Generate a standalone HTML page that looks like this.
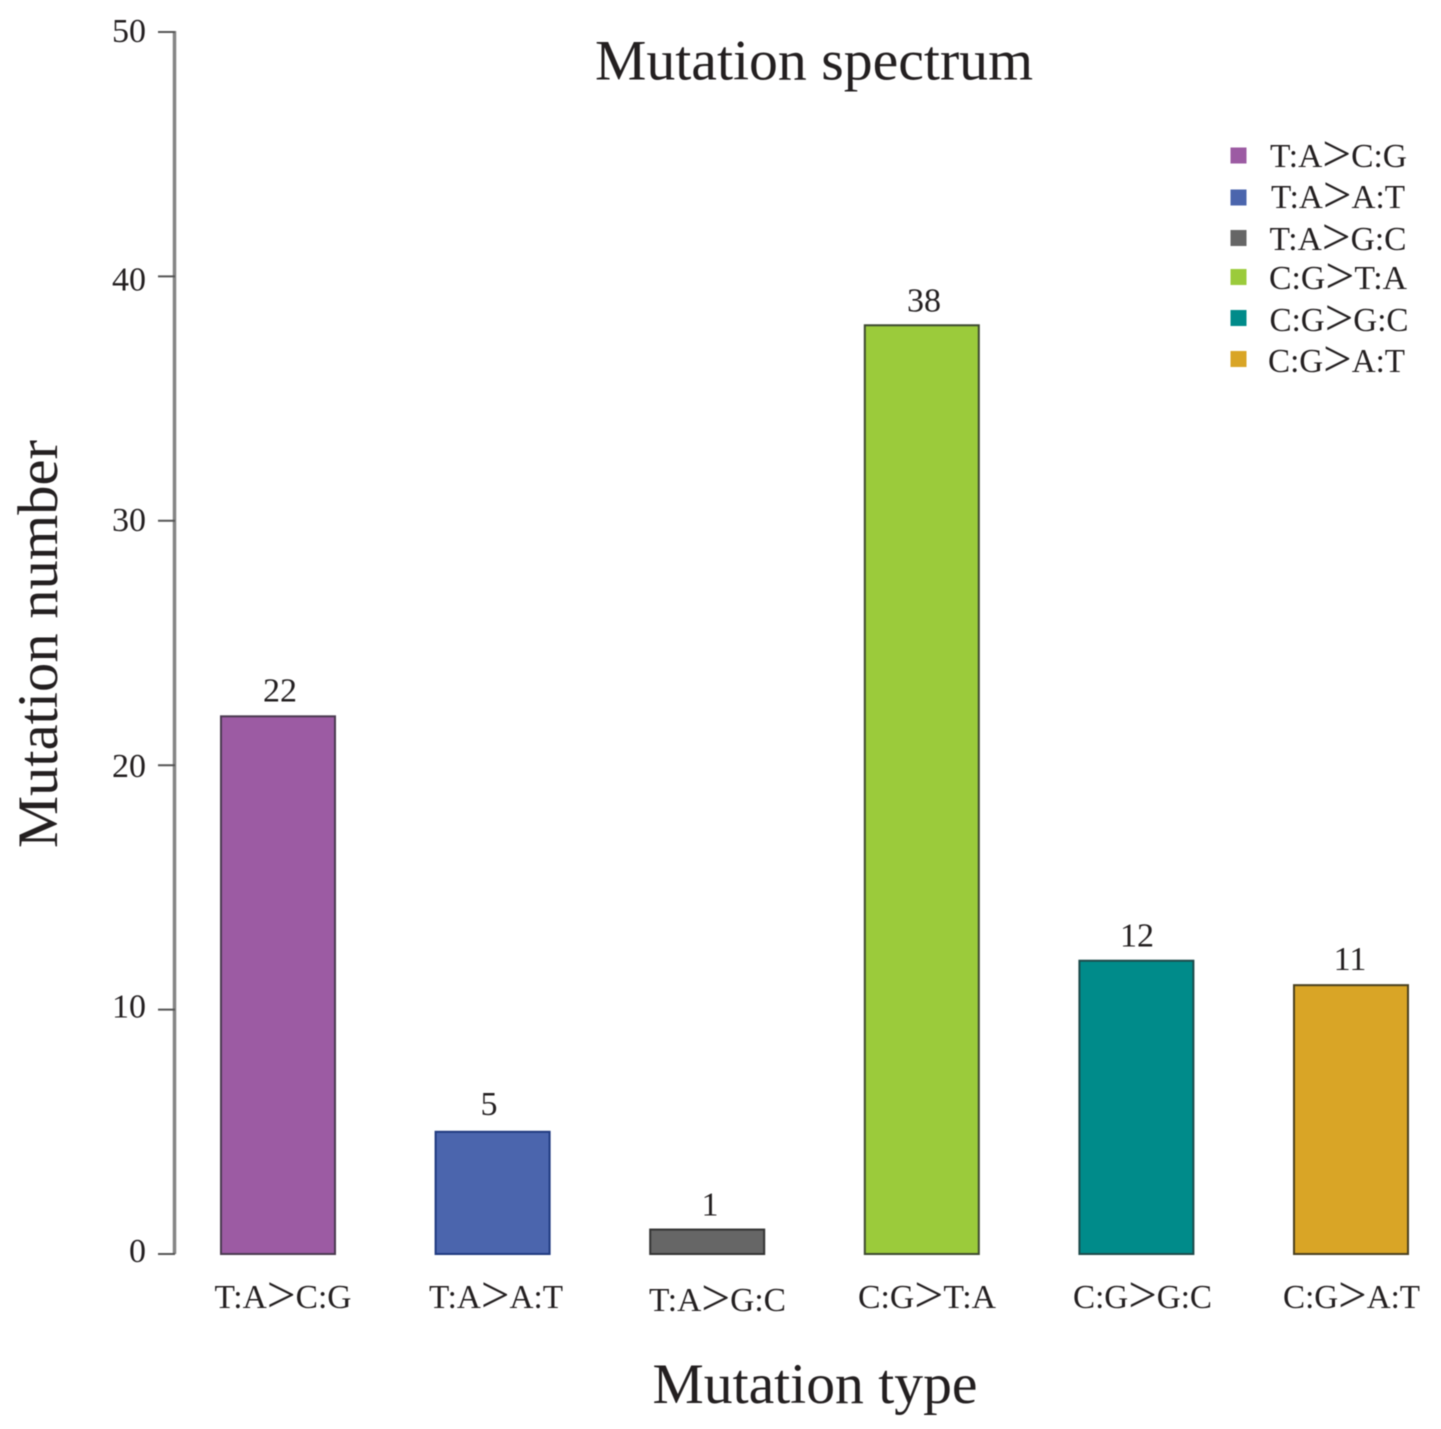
<!DOCTYPE html>
<html>
<head>
<meta charset="utf-8">
<style>
html,body{margin:0;padding:0;background:#fff;}
svg{display:block;filter:blur(0.45px);}
text{font-family:"Liberation Serif",serif;fill:#231f20;}
</style>
</head>
<body>
<svg id="chart" width="1441" height="1429" viewBox="0 0 1441 1429" xmlns="http://www.w3.org/2000/svg">
<text x="814" y="79.5" font-size="57.5" text-anchor="middle" textLength="438" lengthAdjust="spacingAndGlyphs">Mutation spectrum</text>
<text x="815" y="1403" font-size="57.5" text-anchor="middle" textLength="325" lengthAdjust="spacingAndGlyphs">Mutation type</text>
<text transform="translate(57,644) rotate(-90)" font-size="57" text-anchor="middle" textLength="408" lengthAdjust="spacingAndGlyphs">Mutation number</text>
<g id="axis"></g>
<g id="bars"></g>
<g id="legend"></g>
</svg>
<script>
var categories = ["T:A>C:G","T:A>A:T","T:A>G:C","C:G>T:A","C:G>G:C","C:G>A:T"];
var values = [22,5,1,38,12,11];
var yTicks = [0,10,20,30,40,50];

var colors = ["#9c5ba3","#4b65ad","#666666","#9bcb3b","#008b8a","#d9a526"];
var strokes = ["#4a3a50","#1f3a80","#333333","#3d4a30","#1d4a4a","#4a4020"];

var NS = "http://www.w3.org/2000/svg";
function yPos(v){ return 1254 - v * (1254 - 32) / 50; }
function xPos(i){ return 221 + i * 214.6; }
var barWidth = 114;

/* hand-placement nudges seen in the original figure (layout only, not data) */
var tickLabelNudge = [8,8,12,10,14,10];
var valueNudgeX = [59,53.4,59.8,59.2,57.6,56];
var valueNudgeY = [-15,-17,-14,-14,-14,-15];
var catNudgeX = [62,60.4,67.3,62.2,63.1,57.5];
var catNudgeY = [1308,1308,1311,1308,1308,1308];
var catWidth = [137,134,137,138,139,137];
var legendSwatchY = [155.5,197.5,238,277,318,359];
var legendTextY = [167,208,250,289,331,372];
var legendTextX = [1338.5,1338,1338,1338,1339,1336.5];

function mk(tag, attrs, parent, txt){
  var el = document.createElementNS(NS, tag);
  for (var k in attrs) el.setAttribute(k, attrs[k]);
  if (txt !== undefined) el.textContent = txt;
  parent.appendChild(el);
  return el;
}
/* the original draws ">" as an oversized symbol: enlarge it and drop it onto the text mid-line */
function fillLabel(el, label){
  var parts = label.split(">");
  el.appendChild(document.createTextNode(parts[0]));
  var gt = document.createElementNS(NS, "tspan");
  gt.setAttribute("font-size", "52");
  gt.setAttribute("dy", "4");
  gt.textContent = ">";
  el.appendChild(gt);
  var rest = document.createElementNS(NS, "tspan");
  rest.setAttribute("dy", "-4");
  rest.textContent = parts[1];
  el.appendChild(rest);
}
var axis = document.getElementById("axis");
var barsG = document.getElementById("bars");
var legend = document.getElementById("legend");

var axisLine = mk("line", {x1:174.5, x2:174.5, y1:yPos(50)-1, y2:yPos(0), stroke:"#858585", "stroke-width":3.5}, axis);



yTicks.forEach(function(t, i){
  var tick = mk("line", {x1:158, x2:175, y1:yPos(t), y2:yPos(t), stroke:"#555555", "stroke-width":2}, axis);
  
  
  var lab = mk("text", {x:146, y:yPos(t)+tickLabelNudge[i], "font-size":34, "text-anchor":"end"}, axis, String(t));
  
  
});

values.forEach(function(v,i){
  var x = xPos(i), y = yPos(v);
  var r = mk("rect", {x:x, y:y, width:barWidth, height:yPos(0)-y, fill:colors[i], stroke:strokes[i], "stroke-width":2}, barsG);
  
  
  var vl = mk("text", {x:x+valueNudgeX[i], y:y+valueNudgeY[i], "font-size":34, "text-anchor":"middle"}, barsG, String(v));
  
  
  var cl = mk("text", {x:x+catNudgeX[i], y:catNudgeY[i], "font-size":34, "text-anchor":"middle", textLength:catWidth[i], lengthAdjust:"spacingAndGlyphs"}, barsG);
  fillLabel(cl, categories[i]);
  
  

  var sw = mk("rect", {x:1230.5, y:legendSwatchY[i]-8, width:16, height:16, fill:colors[i]}, legend);
  
  
  var lt = mk("text", {x:legendTextX[i], y:legendTextY[i], "font-size":34, "text-anchor":"middle", textLength:catWidth[i], lengthAdjust:"spacingAndGlyphs"}, legend);
  fillLabel(lt, categories[i]);
  
  
});
</script>
</body>
</html>
